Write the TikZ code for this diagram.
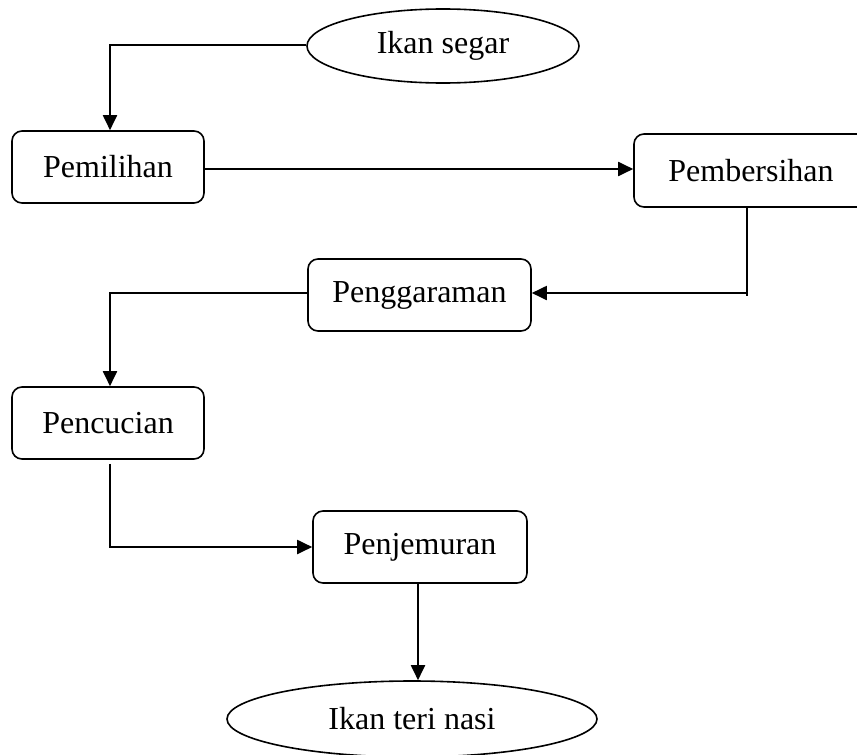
\documentclass[tikz,border=0pt]{standalone}
\usepackage{fontspec}
\setmainfont{Liberation Serif}
\usetikzlibrary{shapes.geometric,arrows.meta}
\tikzset{
  stepbox/.style={draw, line width=1.6pt, rounded corners=10pt, minimum height=72pt, inner sep=0pt, font=\fontsize{32}{36}\selectfont},
  term/.style={draw, ellipse, line width=1.6pt, inner sep=0pt, font=\fontsize{32}{36}\selectfont},
  conn/.style={line width=1.9pt},
  arr/.style={conn, -{Triangle[length=15pt,width=14pt]}}
}
\begin{document}
\begin{tikzpicture}[x=1pt,y=-1pt]
\useasboundingbox (0,0) rectangle (857,755);
\node[term, minimum width=272pt, minimum height=74pt] (seg) at (443,46) {Ikan segar};
\node[stepbox, minimum width=192pt] (pem) at (108,167) {Pemilihan};
\node[stepbox, minimum width=234pt, minimum height=73pt] (pemb) at (751,170.5) {Pembersihan};
\node[stepbox, minimum width=223pt] (garam) at (419.5,295) {Penggaraman};
\node[stepbox, minimum width=192pt] (cuci) at (108,423) {Pencucian};
\node[stepbox, minimum width=214pt] (jemur) at (420,547) {Penjemuran};
\node[term, minimum width=370pt, minimum height=76pt] (teri) at (412,719) {Ikan teri nasi};
\coordinate (k3) at (747,293);
\coordinate (k3t) at (747,296);
\draw[arr] ([yshift=1pt]seg.west) -| ([xshift=2pt]pem.north);
\draw[arr] ([yshift=-2pt]pem.east) -- ([yshift=-2pt]pem.east -| pemb.west);
\draw[conn] (pemb.south -| k3) -- (k3t);
\draw[arr] (k3) -- (k3 -| garam.east);
\draw[arr] ([yshift=2pt]garam.west) -| ([xshift=2pt]cuci.north);
\draw[arr] ([xshift=2pt,yshift=-4pt]cuci.south) |- (jemur.west);
\draw[arr] ([xshift=-2pt]jemur.south) -- ([xshift=-2pt]jemur.south |- teri.north);
\end{tikzpicture}
\end{document}
